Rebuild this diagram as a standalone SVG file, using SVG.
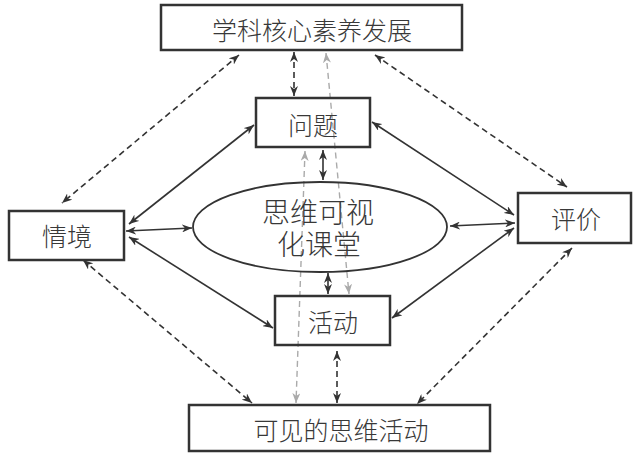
<svg xmlns="http://www.w3.org/2000/svg" width="633" height="453" viewBox="0 0 633 453">
<style>
.box{fill:#fff;stroke:#333;stroke-width:2.5}
.ell{fill:#fff;stroke:#333;stroke-width:1.8}
.t{font-family:"Noto Sans CJK SC","Noto Sans",sans-serif;font-size:25px;font-weight:300;fill:#383838;text-anchor:middle;dominant-baseline:central}
.te{font-size:28px}
.s{fill:none;stroke:#333;stroke-width:1.6;marker-start:url(#ad);marker-end:url(#ad)}
.d{fill:none;stroke:#333;stroke-width:1.6;stroke-dasharray:6 4;marker-start:url(#ad);marker-end:url(#ad)}
.g{fill:none;stroke:#aaa;stroke-width:1.4;stroke-dasharray:6 4;marker-start:url(#ag);marker-end:url(#ag)}
</style>
<defs>
<marker id="ad" viewBox="0 0 10 8" refX="10" refY="4" markerWidth="10" markerHeight="8" markerUnits="userSpaceOnUse" orient="auto-start-reverse"><path d="M0,0 L10,4 L0,8 L3,4 z" fill="#333"/></marker>
<marker id="ag" viewBox="0 0 10 8" refX="10" refY="4" markerWidth="10" markerHeight="8" markerUnits="userSpaceOnUse" orient="auto-start-reverse"><path d="M0,0 L10,4 L0,8 L3,4 z" fill="#aaa"/></marker>
</defs>
<rect width="633" height="453" fill="#fff"/>
<g id="connectors">
<line class="d" x1="294" y1="52" x2="294" y2="96"/>
<line class="s" x1="323" y1="150" x2="323" y2="180"/>
<line class="s" x1="328" y1="273" x2="328" y2="294"/>
<line class="d" x1="337" y1="351" x2="337" y2="403"/>
<line class="s" x1="126" y1="231" x2="192" y2="228"/>
<line class="s" x1="129" y1="224" x2="254" y2="125"/>
<line class="s" x1="129" y1="237" x2="273" y2="328"/>
<line class="s" x1="372" y1="122" x2="514" y2="215"/>
<line class="s" x1="450" y1="226" x2="515" y2="223"/>
<line class="s" x1="392" y1="318" x2="514" y2="228"/>
<line class="d" x1="239" y1="55" x2="62" y2="203"/>
<line class="d" x1="375" y1="55" x2="567" y2="187"/>
<line class="d" x1="83" y1="260" x2="252" y2="403"/>
<line class="d" x1="572" y1="248" x2="417" y2="404"/>
<line class="g" x1="305" y1="151" x2="296" y2="403"/>
<line class="g" x1="326" y1="53" x2="349" y2="294"/>
</g>
<g id="n-top"><rect class="box" x="161" y="5" width="301" height="45"/><text class="t" x="312" y="29">学科核心素养发展</text></g>
<g id="n-wenti"><rect class="box" x="256" y="98" width="114" height="49" fill-opacity="0"/><text class="t" x="313" y="124">问题</text></g>
<g id="n-qingjing"><rect class="box" x="9" y="211" width="115" height="49"/><text class="t" x="67" y="235">情境</text></g>
<g id="n-center"><ellipse class="ell" cx="320" cy="227" rx="127" ry="45" fill-opacity="0"/><text class="t te" x="318" y="211">思维可视</text><text class="t te" x="319" y="243">化课堂</text></g>
<g id="n-pingjia"><rect class="box" x="518" y="193" width="113" height="50"/><text class="t" x="576" y="218">评价</text></g>
<g id="n-huodong"><rect class="box" x="275" y="296" width="115" height="49" fill-opacity="0"/><text class="t" x="333" y="321">活动</text></g>
<g id="n-bottom"><rect class="box" x="189" y="405" width="301" height="46"/><text class="t" x="341" y="429">可见的思维活动</text></g>
</svg>
